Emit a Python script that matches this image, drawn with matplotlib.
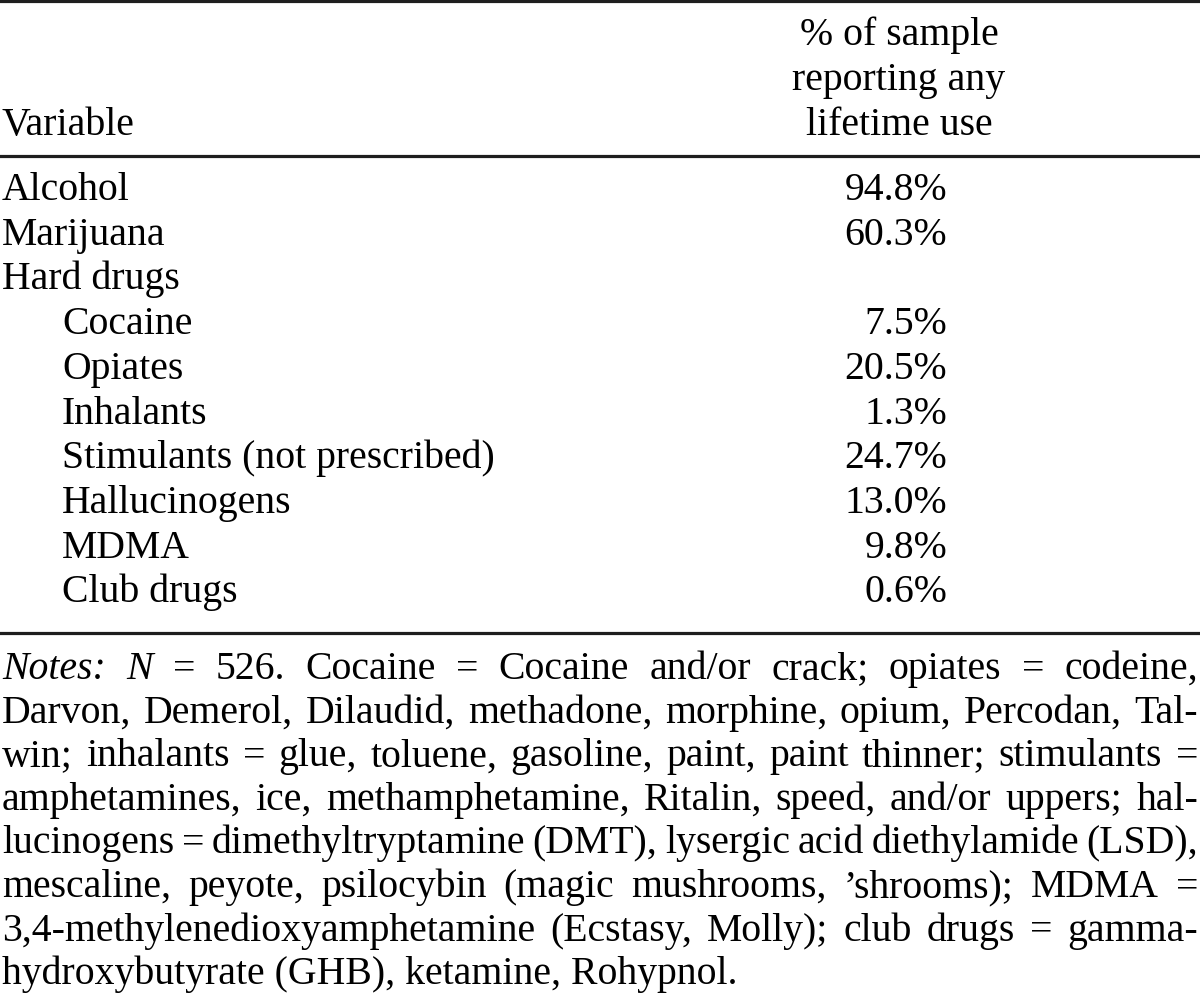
import matplotlib.pyplot as plt

# table content
variables = ["Alcohol", "Marijuana", "Hard drugs", "Cocaine", "Opiates", "Inhalants",
             "Stimulants (not prescribed)", "Hallucinogens", "MDMA", "Club drugs"]
indented = [False, False, False, True, True, True, True, True, True, True]
pct_lifetime = [94.8, 60.3, None, 7.5, 20.5, 1.3, 24.7, 13.0, 9.8, 0.6]
header_col2 = ["% of sample", "reporting any", "lifetime use"]
header_col1 = "Variable"
note_lines = [
    "Notes: N = 526. Cocaine = Cocaine and/or crack; opiates = codeine,",
    "Darvon, Demerol, Dilaudid, methadone, morphine, opium, Percodan, Tal-",
    "win; inhalants = glue, toluene, gasoline, paint, paint thinner; stimulants =",
    "amphetamines, ice, methamphetamine, Ritalin, speed, and/or uppers; hal-",
    "lucinogens = dimethyltryptamine (DMT), lysergic acid diethylamide (LSD),",
    "mescaline, peyote, psilocybin (magic mushrooms, \u2019shrooms); MDMA =",
    "3,4-methylenedioxyamphetamine (Ecstasy, Molly); club drugs = gamma-",
    "hydroxybutyrate (GHB), ketamine, Rohypnol.",
]
italic_words = {"Notes:", "N"}

FONT = "Liberation Serif"
FS = 28.6
INK = "#000000"
RULE = "#1e1e1e"

fig = plt.figure(figsize=(12, 10.02), dpi=100)
ax = fig.add_axes([0, 0, 1, 1])
ax.set_xlim(0, 1200); ax.set_ylim(1002, 0); ax.axis("off")

# rules
for y in [1.4, 155.5, 632.5]:
    ax.axhline(y, color=RULE, lw=2.3)

# header
ax.text(2, 135, header_col1, ha="left", va="baseline", fontsize=FS, family=FONT, color=INK)
for i, line in enumerate(header_col2):
    ax.text(899, 45 + i * 45, line, ha="center", va="baseline", fontsize=FS, family=FONT, color=INK)

# body rows
for i, (name, ind, v) in enumerate(zip(variables, indented, pct_lifetime)):
    y = 200 + i * 44.7
    ax.text(62 if ind else 2, y, name, ha="left", va="baseline", fontsize=FS, family=FONT, color=INK)
    if v is not None:
        ax.text(947, y, f"{v:.1f}%", ha="right", va="baseline", fontsize=FS, family=FONT, color=INK)

# notes, justified between left and right margins
renderer = fig.canvas.get_renderer()
left, right = 2, 1198
for i, line in enumerate(note_lines):
    y = 679 + i * 43.6
    if i == len(note_lines) - 1:
        ax.text(left, y, line, ha="left", va="baseline", fontsize=FS, family=FONT, color=INK)
        continue
    words = line.split(" ")
    items = []
    for w in words:
        style = "italic" if (i == 0 and w in italic_words) else "normal"
        t = ax.text(0, y, w, ha="left", va="baseline", fontsize=FS, family=FONT,
                    style=style, color=INK)
        items.append((t, t.get_window_extent(renderer).width))
    gap = (right - left - sum(wd for _, wd in items)) / (len(items) - 1)
    x = left
    for t, wd in items:
        t.set_x(x)
        x += wd + gap

fig.savefig("out.png", dpi=100)
